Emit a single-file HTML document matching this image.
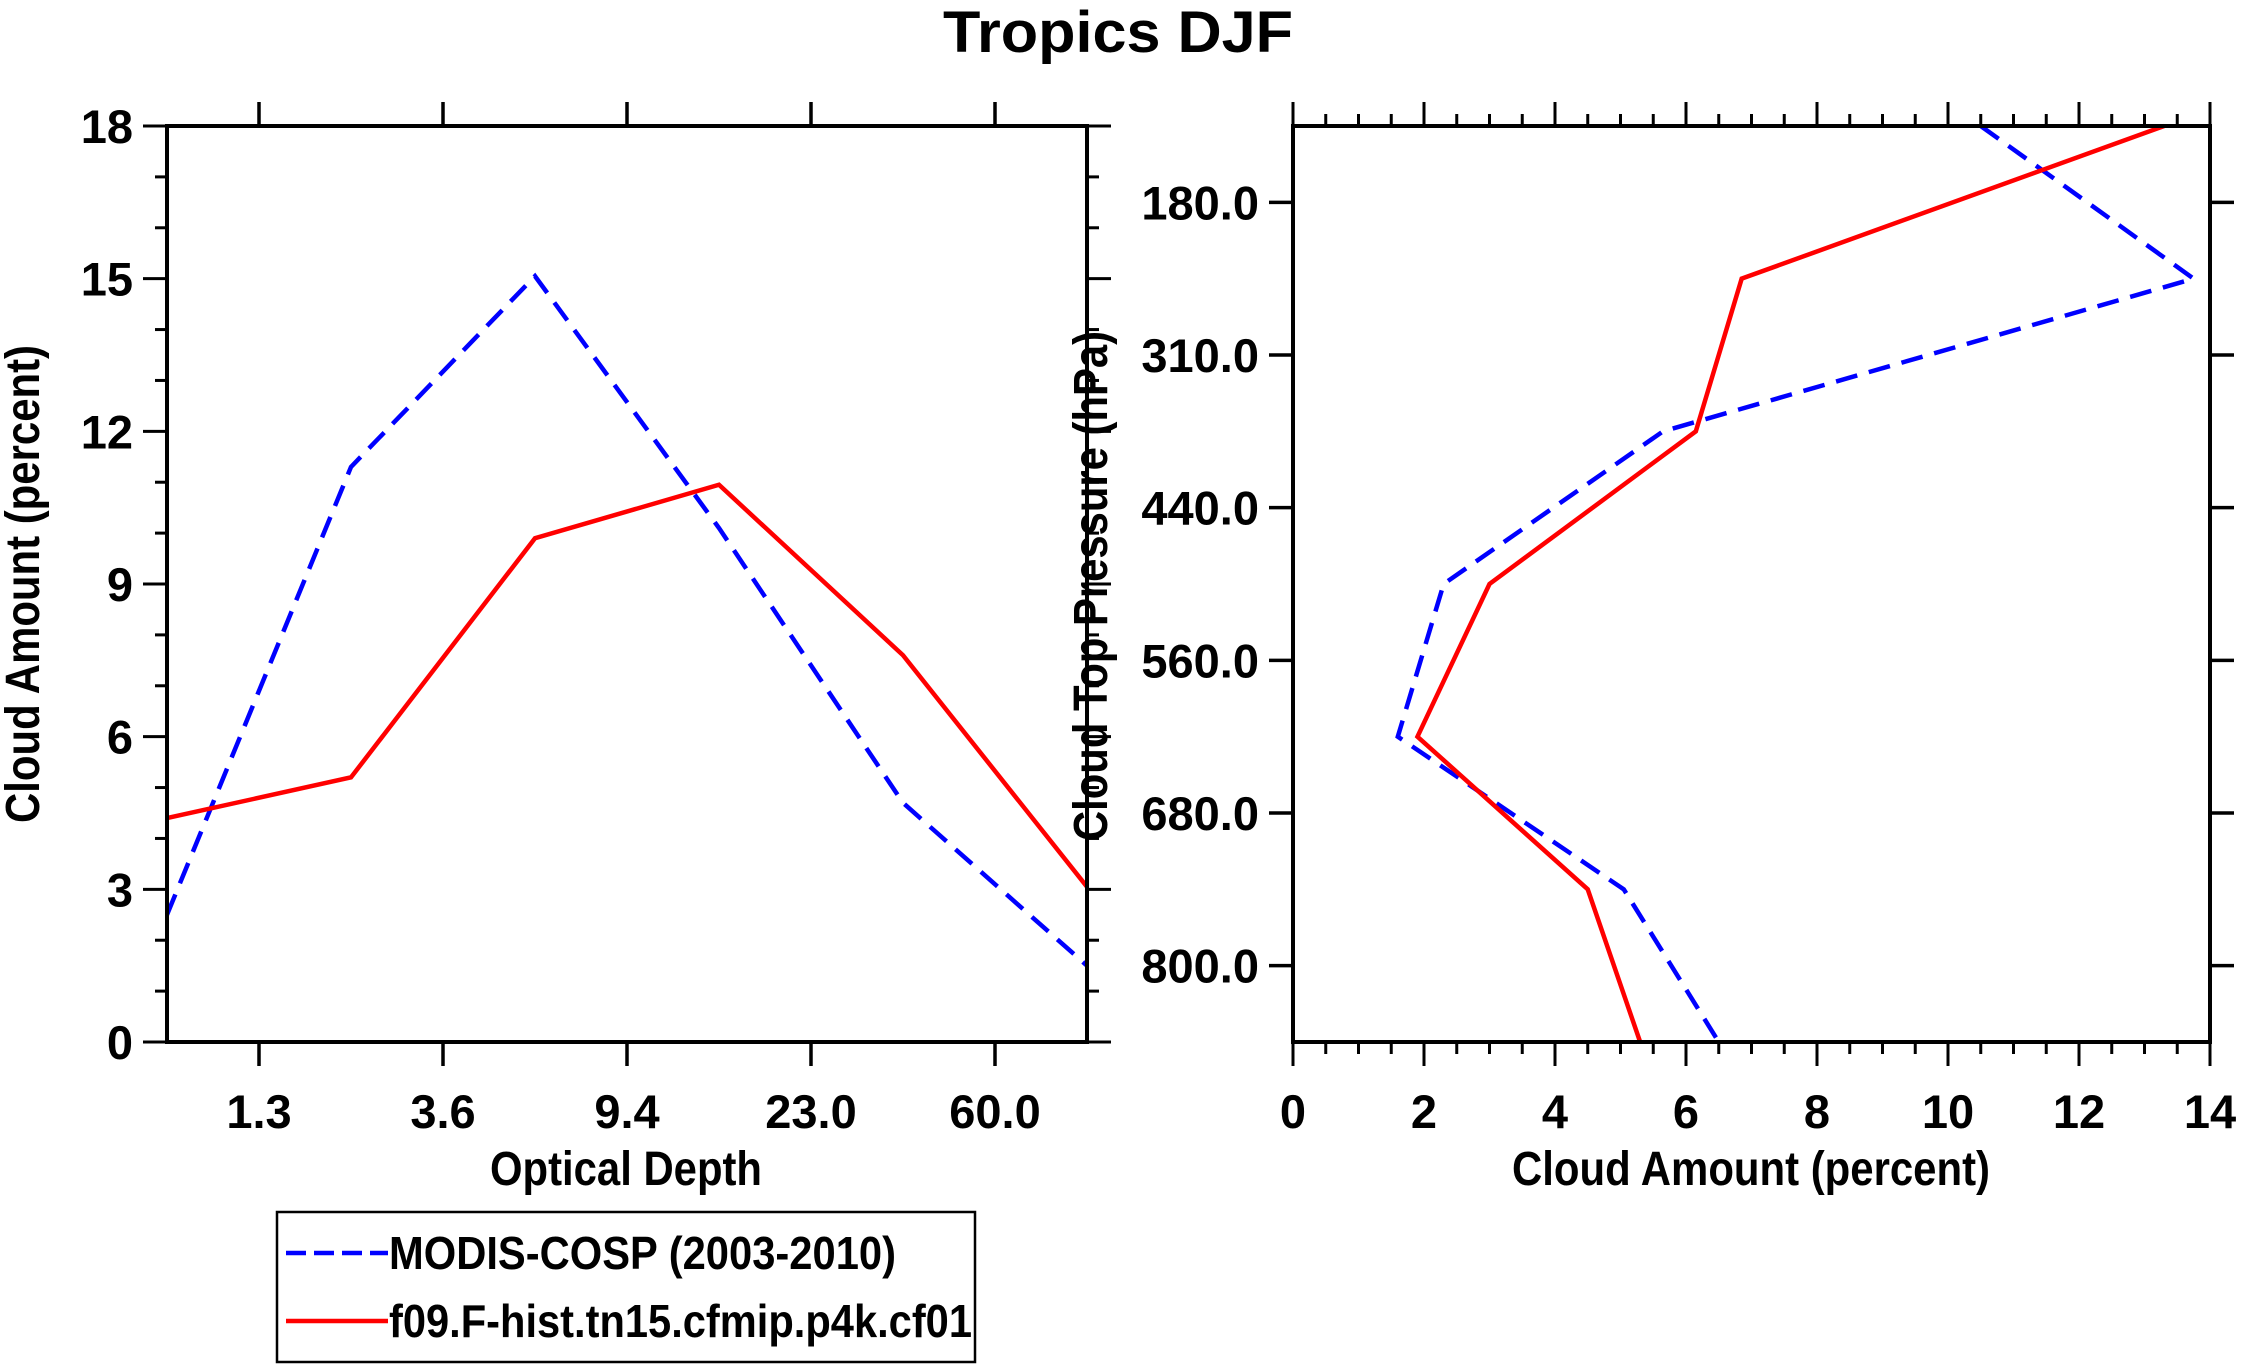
<!DOCTYPE html>
<html><head><meta charset="utf-8"><style>
html,body{margin:0;padding:0;background:#fff}
svg{display:block;font-family:"Liberation Sans",sans-serif;font-weight:bold}
</style></head><body>
<svg id="c" width="2241" height="1372" viewBox="0 0 2241 1372" xmlns="http://www.w3.org/2000/svg">
<text x="1118" y="52" font-size="58" text-anchor="middle" textLength="350" lengthAdjust="spacingAndGlyphs">Tropics DJF</text>
<g id="left"></g>
<g id="right"></g>
<g>
<rect x="277" y="1212" width="698" height="150" fill="none" stroke="#000" stroke-width="2.5"/>
<line x1="286" y1="1253" x2="388" y2="1253" stroke="#00f" stroke-width="4.5" stroke-dasharray="20,8"/>
<text x="389" y="1269" font-size="46" textLength="507" lengthAdjust="spacingAndGlyphs">MODIS-COSP (2003-2010)</text>
<line x1="286" y1="1321" x2="388" y2="1321" stroke="#f00" stroke-width="4.5"/>
<text x="389" y="1337" font-size="46" textLength="583" lengthAdjust="spacingAndGlyphs">f09.F-hist.tn15.cfmip.p4k.cf01</text>
</g>
</svg>
<script>
const tauLabels = ["1.3","3.6","9.4","23.0","60.0"];
const modisTau = [2.5, 11.3, 15.05, 10.1, 4.7, 1.5];
const modelTau = [4.4, 5.2, 9.9, 10.95, 7.6, 3.05];
const yTicksLeft = [0,3,6,9,12,15,18];
const pLabels = ["180.0","310.0","440.0","560.0","680.0","800.0"];
const modisP = [10.5, 13.75, 5.65, 2.3, 1.6, 5.05, 6.5];
const modelP = [13.3, 6.85, 6.15, 3.0, 1.9, 4.5, 5.3];
const xTicksRight = [0,2,4,6,8,10,12,14];

const NS = "http://www.w3.org/2000/svg";
function el(parent, tag, attrs, text){
  const e = document.createElementNS(NS, tag);
  for (const k in attrs) e.setAttribute(k, attrs[k]);
  if (text !== undefined) e.textContent = text;
  parent.appendChild(e);
  return e;
}
function ln(g,x1,y1,x2,y2,w){ return el(g,'line',{x1,y1,x2,y2,stroke:'#000','stroke-width':w||3}); }
const FS = 47;

// ----- Left panel -----
const L = {x0:167, x1:1087, y0:126, y1:1042};
const lx = v => L.x0 + (L.x1-L.x0)*v/5;
const ly = v => L.y1 - (L.y1-L.y0)*v/18;
const gl = document.getElementById('left');
for (let v=0; v<=18; v++){
  const major = v%3===0, len = major?24:12;
  let t = ln(gl, L.x0-len, ly(v), L.x0, ly(v), 3);
   
  t = ln(gl, L.x1, ly(v), L.x1+len, ly(v), 3);
   
}
yTicksLeft.forEach(v=>{
  const t = el(gl,'text',{x:L.x0-34,y:ly(v)+17,'font-size':FS,'text-anchor':'end'},String(v));
   
});
tauLabels.forEach((s,i)=>{
  const x = lx(i+0.5);
  let t = ln(gl,x,L.y1,x,L.y1+24,3.5);
   
  t = ln(gl,x,L.y0-24,x,L.y0,3.5);
   
  const tx = el(gl,'text',{x:x,y:1128,'font-size':FS,'text-anchor':'middle'},s);
   
});
function series(g, xs, ys, color, dash, name){
  const pts = xs.map((x,i)=>x+','+ys[i]).join(' ');
  const p = el(g,'polyline',{points:pts,fill:'none',stroke:color,'stroke-width':4.5,'stroke-dasharray':dash||'none','stroke-linejoin':'miter'});
  
  
}
series(gl, modisTau.map((v,i)=>lx(i)), modisTau.map(ly), '#00f', '22,12', 'modis-line-tau');
series(gl, modelTau.map((v,i)=>lx(i)), modelTau.map(ly), '#f00', null, 'model-line-tau');
let b = el(gl,'rect',{x:L.x0,y:L.y0,width:L.x1-L.x0,height:L.y1-L.y0,fill:'none',stroke:'#000','stroke-width':4});
 
let tt = el(gl,'text',{x:626,y:1185,'font-size':48,'text-anchor':'middle',textLength:272,lengthAdjust:'spacingAndGlyphs'},'Optical Depth');
 
tt = el(gl,'text',{x:0,y:0,'font-size':48,'text-anchor':'middle',textLength:478,lengthAdjust:'spacingAndGlyphs',transform:'translate(39,584) rotate(-90)'},'Cloud Amount (percent)');
 

// ----- Right panel -----
const R = {x0:1293, x1:2210, y0:126, y1:1042};
const rx = v => R.x0 + (R.x1-R.x0)*v/14;
const ry = i => R.y0 + (R.y1-R.y0)*i/6;
const gr = document.getElementById('right');
for (let v=0; v<=28; v++){
  const x = rx(v/2), major = v%4===0, len = major?24:12;
  let t = ln(gr,x,R.y1,x,R.y1+len,3);
   
  t = ln(gr,x,R.y0-len,x,R.y0,3);
   
}
xTicksRight.forEach(v=>{
  const t = el(gr,'text',{x:rx(v),y:1128,'font-size':FS,'text-anchor':'middle'},String(v));
   
});
pLabels.forEach((s,i)=>{
  const y = ry(i+0.5);
  let t = ln(gr,R.x0-24,y,R.x0,y,3.5);
   
  t = ln(gr,R.x1,y,R.x1+24,y,3.5);
   
  const tx = el(gr,'text',{x:R.x0-34,y:y+17,'font-size':FS,'text-anchor':'end'},s);
   
});
series(gr, modisP.map(rx), modisP.map((v,i)=>ry(i)), '#00f', '22,12', 'modis-line-pressure');
series(gr, modelP.map(rx), modelP.map((v,i)=>ry(i)), '#f00', null, 'model-line-pressure');
b = el(gr,'rect',{x:R.x0,y:R.y0,width:R.x1-R.x0,height:R.y1-R.y0,fill:'none',stroke:'#000','stroke-width':4});
 
tt = el(gr,'text',{x:1751,y:1185,'font-size':48,'text-anchor':'middle',textLength:478,lengthAdjust:'spacingAndGlyphs'},'Cloud Amount (percent)');
 
tt = el(gr,'text',{x:0,y:0,'font-size':48,'text-anchor':'middle',textLength:510,lengthAdjust:'spacingAndGlyphs',transform:'translate(1107,586) rotate(-90)'},'Cloud Top Pressure (hPa)');
 
</script>
</body></html>
